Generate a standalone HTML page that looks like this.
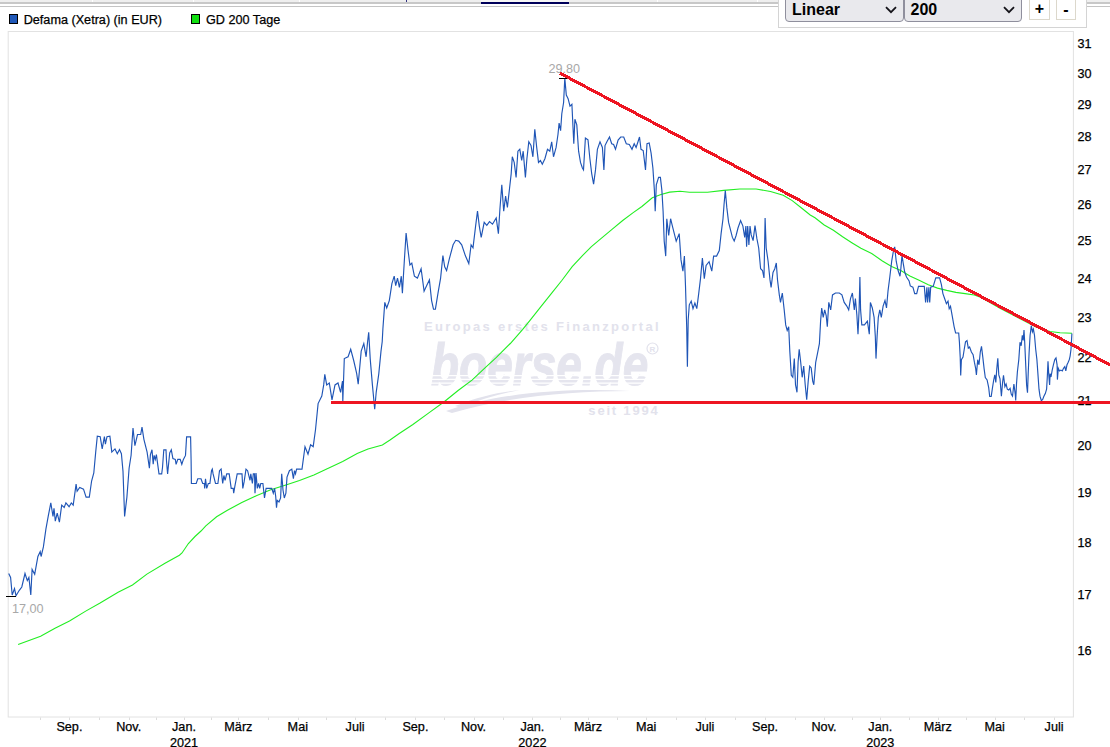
<!DOCTYPE html>
<html><head><meta charset="utf-8"><title>Defama Chart</title>
<style>
html,body{margin:0;padding:0;background:#fff;}
body{width:1110px;height:747px;overflow:hidden;position:relative;font-family:"Liberation Sans",Arial,sans-serif;}
#chart{position:absolute;left:0;top:0;}
.strip{position:absolute;left:0;top:0;width:1110px;height:4px;background:linear-gradient(#efefef 0,#efefef 2px,#c8c8c8 2px,#c8c8c8 4px);}
.strip i{position:absolute;top:0;width:1px;height:2px;background:#fff;}
.hr{position:absolute;left:0;top:6px;width:1110px;height:1px;background:#c4c4c4;}
.panel{position:absolute;left:778px;top:-2px;width:307px;height:28px;background:#fff;border:1px solid #d4d4d4;}
.sel{position:absolute;top:-8px;height:31px;box-sizing:border-box;background:#e9e9ed;border:1px solid #8f8f9d;border-radius:4px;font-weight:bold;font-size:16px;color:#000;line-height:18px;}
.sel span{position:absolute;left:6px;top:9px;}
.sel svg{position:absolute;right:6px;top:14.3px;}
.btn{position:absolute;top:-2px;height:23px;width:20px;box-sizing:border-box;border:1px solid #dcd8cc;background:#fff;font-weight:bold;font-size:16px;text-align:center;line-height:18px;color:#000;}
</style></head><body>
<svg id="chart" width="1110" height="747" viewBox="0 0 1110 747" font-family="'Liberation Sans',Arial,sans-serif" font-size="12.65px">
<rect x="8.2" y="31.5" width="1065.2" height="685.5" fill="#fff" stroke="#e2e2e2" stroke-width="1"/>
<!-- watermark -->
<g fill="#e2e2ec" font-weight="bold">
<text x="424" y="331" font-size="13px" letter-spacing="2.3">Europas erstes Finanzportal</text>
<text transform="translate(431,385.2) scale(1,1.27)" font-size="46px" fill="#e5e5ee" stroke="#e5e5ee" stroke-width="0.8" font-style="italic" letter-spacing="0">boerse.de</text>
<text x="659.5" y="414.5" font-size="13px" letter-spacing="1.8" text-anchor="end">seit 1994</text>
<circle cx="652.5" cy="348.5" r="5.5" fill="none" stroke="#e2e2ec" stroke-width="1.2"/>
<text x="652.5" y="351.5" font-size="8px" text-anchor="middle">R</text>
<path d="M446 411 C 500 392, 570 388, 630 391 C 570 391, 505 397, 452 413 Z" />
<path d="M455 406 C 480 396, 500 392, 520 390 C 500 394, 480 399, 462 408 Z"/>
</g>
<g stroke="#fff" stroke-width="1.3"><path d="M428 375.6H650M428 379.4H650M428 383.2H650"/></g>
<!-- legend -->
<rect x="9.5" y="14.5" width="8" height="9" fill="#2058b8" stroke="#000"/>
<text x="23.7" y="24" fill="#000" stroke="#000" stroke-width="0.25">Defama (Xetra) (in EUR)</text>
<rect x="191.5" y="14.5" width="8" height="9" fill="#10e010" stroke="#000"/>
<text x="206" y="24" fill="#000" stroke="#000" stroke-width="0.25">GD 200 Tage</text>
<!-- axes -->
<path d="M40.5 717.5v2.5M69.5 717.5v2.5M129.5 717.5v2.5M184.5 717.5v2.5M238.5 717.5v2.5M298.5 717.5v2.5M355.5 717.5v2.5M415.5 717.5v2.5M474.5 717.5v2.5M532.5 717.5v2.5M588.5 717.5v2.5M646.5 717.5v2.5M705.5 717.5v2.5M765.5 717.5v2.5M824.5 717.5v2.5M880.5 717.5v2.5M938.5 717.5v2.5M995.5 717.5v2.5M1054.5 717.5v2.5M99.5 717.5v2.5M156.5 717.5v2.5M211.5 717.5v2.5M268.5 717.5v2.5M326.5 717.5v2.5M385.5 717.5v2.5M444.5 717.5v2.5M503.5 717.5v2.5M560.5 717.5v2.5M617.5 717.5v2.5M676.5 717.5v2.5M735.5 717.5v2.5M795.5 717.5v2.5M852.5 717.5v2.5M909.5 717.5v2.5M966.5 717.5v2.5M1024.5 717.5v2.5" stroke="#dcdcdc" stroke-width="1" fill="none"/>
<g fill="#000" stroke="#000" stroke-width="0.25"><text x="1077.5" y="654.6">16</text><text x="1077.5" y="598.9">17</text><text x="1077.5" y="546.5">18</text><text x="1077.5" y="496.9">19</text><text x="1077.5" y="449.8">20</text><text x="1077.5" y="405.0">21</text><text x="1077.5" y="362.4">22</text><text x="1077.5" y="321.6">23</text><text x="1077.5" y="282.5">24</text><text x="1077.5" y="245.1">25</text><text x="1077.5" y="209.1">26</text><text x="1077.5" y="174.4">27</text><text x="1077.5" y="141.1">28</text><text x="1077.5" y="108.9">29</text><text x="1077.5" y="77.8">30</text><text x="1077.5" y="47.7">31</text></g>
<g fill="#000" stroke="#000" stroke-width="0.25"><text x="69.4" y="731.2" text-anchor="middle">Sep.</text><text x="128.7" y="731.2" text-anchor="middle">Nov.</text><text x="184" y="731.2" text-anchor="middle">Jan.</text><text x="238.4" y="731.2" text-anchor="middle">März</text><text x="297.8" y="731.2" text-anchor="middle">Mai</text><text x="355.1" y="731.2" text-anchor="middle">Juli</text><text x="415.4" y="731.2" text-anchor="middle">Sep.</text><text x="473.5" y="731.2" text-anchor="middle">Nov.</text><text x="532.4" y="731.2" text-anchor="middle">Jan.</text><text x="588.1" y="731.2" text-anchor="middle">März</text><text x="646.2" y="731.2" text-anchor="middle">Mai</text><text x="704.9" y="731.2" text-anchor="middle">Juli</text><text x="765.1" y="731.2" text-anchor="middle">Sep.</text><text x="824" y="731.2" text-anchor="middle">Nov.</text><text x="880.3" y="731.2" text-anchor="middle">Jan.</text><text x="937.8" y="731.2" text-anchor="middle">März</text><text x="994.6" y="731.2" text-anchor="middle">Mai</text><text x="1054.1" y="731.2" text-anchor="middle">Juli</text><text x="184" y="746.5" text-anchor="middle">2021</text><text x="532.4" y="746.5" text-anchor="middle">2022</text><text x="880.3" y="746.5" text-anchor="middle">2023</text></g>
<!-- lines -->
<polyline points="18.1,644.4 40.6,636.3 55.0,628.2 69.5,621.0 85.7,611.1 100.1,603.0 118.1,592.2 132.5,585.0 146.9,574.1 165.0,563.3 179.4,555.2 182.0,553.0 188.4,543.5 195.0,536.5 201.0,531.0 205.8,525.8 216.6,516.8 227.4,510.3 241.8,502.5 256.3,495.7 270.7,489.8 285.1,485.2 299.5,480.4 313.9,475.0 328.3,468.3 342.7,461.5 357.2,453.5 368.0,449.0 382.4,445.0 390.0,440.0 398.9,433.8 412.9,424.5 428.5,413.1 444.2,401.8 458.1,390.5 472.0,380.1 484.2,368.7 496.4,357.4 510.3,343.5 522.5,329.6 530.4,319.8 540.9,306.6 551.3,293.6 561.8,280.5 572.2,266.6 582.7,255.3 591.4,246.6 601.8,237.9 612.3,229.2 622.7,220.5 633.2,212.6 641.9,206.5 652.3,197.8 661.0,194.5 669.7,192.1 680.0,191.2 689.5,192.2 707.5,192.3 723.7,190.4 739.9,189.0 756.1,189.0 770.5,191.5 783.2,195.2 792.2,200.6 801.2,207.8 810.2,215.0 815.0,217.7 824.2,225.0 833.4,230.3 842.6,236.8 851.8,242.7 860.9,248.3 871.7,253.5 882.4,261.0 891.6,266.5 900.8,270.5 909.9,275.9 919.1,280.2 928.3,284.8 937.5,288.1 946.7,290.4 955.9,292.4 965.1,293.6 974.3,295.0 981.2,297.5 1000.0,308.3 1024.0,320.8 1036.0,327.0 1044.0,329.5 1050.0,331.5 1060.0,332.8 1072.0,333.2" fill="none" stroke="#22ee22" stroke-width="1.1"/>
<polyline points="8.7,573.5 10.6,577.4 12.2,595.0 14.5,588.6 16.0,595.7 19.3,590.3 21.8,587.0 25.0,573.5 27.3,580.6 28.9,577.4 30.8,595.0 32.1,569.4 34.7,574.2 37.9,556.5 40.2,551.7 41.1,556.5 43.4,546.9 45.9,529.2 48.2,516.4 50.8,502.9 53.0,516.4 54.0,508.3 55.3,521.2 57.2,513.2 59.4,522.1 61.7,505.1 64.2,507.4 65.9,502.9 69.1,506.7 71.3,502.9 73.2,505.1 76.1,484.2 77.1,491.3 79.7,487.5 83.5,489.1 86.1,497.1 89.3,497.1 91.6,481.0 93.8,473.0 95.7,452.1 97.3,436.1 100.2,436.7 102.2,448.9 104.4,436.7 105.4,444.1 107.0,436.7 109.9,436.1 111.8,452.1 115.0,448.9 117.3,453.7 119.5,449.6 121.4,453.7 123.0,471.4 124.6,516.4 126.9,497.1 129.1,468.2 131.1,455.3 133.0,428.0 134.9,445.7 137.5,434.5 140.7,434.5 142.0,427.1 143.9,439.3 147.1,452.1 149.4,468.2 150.4,454.6 152.0,449.8 153.2,464.3 154.1,455.4 155.3,459.4 156.4,454.6 157.7,464.3 159.0,473.9 161.7,473.9 162.5,467.5 163.8,449.8 166.0,449.8 166.5,461.0 167.6,473.9 168.9,461.0 169.7,453.0 171.3,449.8 172.9,458.6 175.3,459.4 176.1,464.3 177.8,459.4 180.2,459.4 181.8,464.3 183.4,459.4 185.5,455.4 186.6,436.9 190.6,436.9 191.1,460.2 191.4,483.5 196.2,483.5 197.8,478.7 201.0,478.7 202.7,483.5 204.3,483.5 204.7,488.4 205.5,478.7 206.7,488.4 208.3,483.5 209.9,483.5 211.5,470.7 212.3,469.1 213.1,473.9 215.5,483.5 217.9,483.5 219.5,470.7 221.1,469.1 222.7,483.5 223.9,475.5 225.1,480.3 226.7,473.9 229.2,473.9 231.2,488.4 233.2,488.4 233.7,493.2 234.8,486.7 237.2,473.9 242.0,473.9 242.8,488.4 244.1,481.9 246.0,469.1 247.6,470.7 250.0,480.3 250.8,473.9 252.4,483.5 253.3,473.9 254.5,473.9 255.0,493.2 256.0,473.1 257.3,488.4 258.6,483.5 259.7,488.4 260.8,483.5 262.9,483.5 264.5,498.0 266.1,488.4 271.7,488.4 273.3,493.2 274.6,488.4 275.7,496.4 276.5,507.6 277.3,500.4 279.0,502.0 280.6,498.0 281.7,473.9 283.0,490.0 284.3,498.0 285.9,493.2 287.0,477.1 289.4,470.7 291.8,469.1 293.4,478.7 294.5,470.7 295.5,473.9 296.6,469.1 299.8,469.1 302.0,469.2 305.0,446.7 308.0,454.2 310.6,444.8 313.2,446.7 315.5,429.8 318.1,403.6 321.8,396.1 323.7,384.9 324.8,374.4 326.7,384.9 329.3,383.0 332.0,399.8 335.0,384.9 338.0,383.0 340.6,392.3 342.5,381.1 342.8,401.7 344.3,358.6 348.1,356.8 350.7,349.3 353.7,360.5 356.7,373.6 358.2,384.1 361.2,351.1 363.8,343.6 366.1,356.8 367.6,341.8 368.7,332.4 370.2,358.6 372.4,384.9 374.7,409.2 376.2,392.3 378.8,373.6 381.0,351.1 382.2,341.8 382.9,328.7 384.8,302.4 386.7,308.0 389.3,300.6 391.9,283.7 394.2,276.2 395.7,285.6 397.5,278.1 399.4,287.4 401.3,276.2 402.4,293.1 404.3,261.2 406.1,233.1 408.0,250.0 409.9,265.0 411.8,263.1 414.4,276.2 417.4,278.1 421.1,268.7 424.1,291.2 426.7,285.6 429.4,279.9 431.6,300.6 433.5,309.2 435.4,309.2 438.0,293.1 440.6,278.1 442.9,255.6 444.7,266.8 446.6,270.6 449.2,259.3 453.1,244.8 455.7,240.3 458.7,241.1 461.7,244.8 465.5,256.1 468.8,263.6 471.1,244.8 473.0,247.8 475.6,226.1 477.5,211.1 479.3,226.1 481.2,237.3 484.2,222.3 486.8,225.3 489.5,221.6 492.5,224.2 496.2,217.9 498.4,233.6 499.9,209.2 501.8,184.9 503.7,211.1 505.6,196.1 507.4,207.4 509.3,190.5 511.2,173.6 512.3,156.8 514.2,162.4 516.1,177.4 517.9,151.2 519.8,149.3 521.7,160.5 523.2,151.2 525.4,177.4 526.9,158.7 528.8,141.8 531.0,145.5 532.9,156.8 534.8,129.4 536.7,147.4 538.5,162.4 540.4,160.5 542.3,164.3 544.9,158.7 547.5,149.3 549.8,151.2 551.7,141.8 553.5,156.8 556.1,147.4 558.0,134.3 559.1,123.1 560.6,130.6 561.8,113.7 563.6,102.5 564.8,78.1 566.3,95.0 568.1,98.7 570.0,106.2 571.9,104.3 573.8,143.7 574.9,119.3 576.8,124.9 578.6,151.2 580.5,162.4 582.4,168.0 583.5,169.9 585.4,138.0 588.0,139.9 589.9,158.7 591.7,173.6 593.6,184.1 595.5,169.9 597.4,149.3 600.0,141.8 602.4,147.5 603.9,169.9 605.0,145.6 606.9,141.8 609.5,137.0 611.7,143.7 613.6,144.5 615.5,149.3 618.1,140.0 620.7,137.0 623.7,137.0 626.3,143.7 629.3,144.5 632.0,149.3 634.2,143.7 636.1,147.5 638.0,141.8 639.5,137.0 641.0,149.3 643.2,150.5 645.5,169.9 647.0,143.7 649.2,143.0 651.1,153.1 652.9,168.1 654.4,190.6 655.2,211.2 656.3,184.9 658.6,177.4 660.4,177.4 661.9,190.6 663.1,211.2 664.2,241.1 665.7,256.1 666.8,218.7 668.7,235.5 670.6,218.7 672.4,226.1 674.3,233.6 676.2,241.1 679.2,233.6 681.0,259.9 682.9,271.1 684.4,256.1 685.5,286.1 686.7,327.3 687.4,366.7 688.2,319.8 689.3,304.8 691.2,301.1 693.0,308.6 694.9,303.0 696.8,308.6 698.7,293.6 700.5,278.6 702.4,258.0 704.3,278.6 706.1,265.5 709.1,261.7 711.8,271.1 713.6,256.1 716.6,256.1 719.3,250.5 721.1,233.6 723.0,218.7 724.1,203.7 725.3,190.6 726.8,207.4 728.6,222.4 730.5,229.9 732.4,237.4 734.2,241.1 736.1,235.5 738.0,228.0 740.6,220.5 742.9,226.1 744.7,237.4 745.9,226.1 746.6,246.8 747.7,226.1 748.9,244.9 750.0,226.1 751.2,234.9 753.1,240.6 755.0,225.6 756.9,238.7 758.7,248.0 760.6,268.7 762.5,270.5 764.0,278.0 765.1,218.1 766.2,248.0 768.1,261.2 770.0,279.9 771.1,287.4 773.0,272.4 774.8,268.7 776.3,263.0 777.5,279.9 779.3,294.9 780.5,302.4 782.3,293.0 784.2,309.9 785.7,324.9 787.2,330.5 788.7,326.7 789.8,351.1 791.3,375.4 792.8,377.3 794.3,358.6 795.5,384.8 797.0,392.3 798.1,362.3 799.2,349.2 800.7,362.3 802.2,377.3 803.7,366.1 805.2,384.8 806.7,399.8 808.2,381.1 809.7,366.1 811.2,367.9 812.7,381.1 813.8,384.8 815.7,362.3 817.6,352.9 819.4,343.6 820.6,321.1 821.7,308.0 823.2,317.4 824.7,309.9 826.2,315.5 827.3,326.7 828.8,302.4 830.7,309.9 832.5,294.9 835.5,293.0 839.3,293.0 841.9,294.9 844.2,302.4 846.8,306.1 848.7,309.9 850.5,298.6 852.4,293.0 854.3,309.9 855.4,298.6 856.9,315.5 858.0,334.2 859.1,309.9 859.9,276.9 860.6,309.9 861.8,324.9 864.4,324.9 867.4,321.1 869.3,334.2 870.4,302.4 872.3,308.0 874.1,317.4 875.3,336.1 876.0,358.6 877.1,336.1 878.3,317.4 879.8,309.9 881.3,317.4 883.1,306.1 885.0,300.5 886.5,308.0 888.0,291.1 889.9,276.2 891.7,261.2 893.6,249.9 894.7,246.9 896.2,261.2 898.1,270.5 900.0,276.2 900.9,268.1 902.0,255.4 903.2,263.1 904.7,272.0 906.5,277.0 909.1,280.9 910.3,285.9 912.9,287.2 914.7,293.6 916.7,293.6 918.5,286.4 924.3,286.4 925.6,302.5 926.9,287.2 927.6,302.5 928.9,287.2 929.7,302.5 930.7,287.2 933.2,286.4 935.8,277.8 939.6,277.8 941.4,284.7 942.9,293.6 944.7,298.7 946.4,303.7 948.0,301.2 949.2,308.8 950.5,306.3 952.3,316.4 954.1,326.6 955.6,333.0 958.7,333.0 959.4,341.9 960.2,357.1 960.7,375.4 961.4,359.7 963.0,357.1 964.2,349.5 965.5,341.9 967.0,340.6 968.3,348.2 969.6,347.0 971.4,352.0 973.1,354.6 974.4,362.2 975.7,368.6 976.4,374.9 977.7,359.7 979.0,364.8 980.3,352.0 981.5,346.4 982.8,357.1 984.1,368.6 985.3,377.5 987.1,380.0 988.7,387.6 989.7,396.5 991.2,396.5 992.5,387.6 993.7,380.0 994.8,374.9 995.8,382.5 996.8,368.6 997.8,358.4 998.8,374.9 1000.0,378.8 1001.4,396.2 1002.6,382.3 1003.5,375.3 1004.9,386.6 1006.1,384.0 1007.3,389.2 1008.7,390.1 1010.1,388.3 1011.3,394.4 1012.5,396.2 1013.9,384.0 1015.3,394.4 1015.7,400.5 1016.5,384.0 1017.4,371.8 1018.8,359.6 1020.0,342.2 1021.2,345.7 1022.3,335.3 1023.2,340.5 1024.0,330.0 1024.7,342.2 1025.8,366.6 1026.6,384.9 1027.5,392.7 1028.2,373.6 1029.1,352.7 1030.1,335.3 1031.3,325.7 1032.4,331.8 1033.4,329.2 1034.5,335.3 1035.7,349.2 1036.9,359.6 1037.9,373.6 1039.0,389.2 1040.0,396.2 1041.3,400.5 1042.6,399.7 1043.9,396.2 1045.3,393.6 1046.6,389.2 1047.3,377.0 1048.0,361.4 1048.7,373.6 1049.6,384.9 1050.1,373.6 1051.0,377.0 1052.2,370.1 1053.4,364.8 1054.8,359.6 1056.0,357.9 1057.1,364.8 1057.4,379.6 1058.3,368.3 1059.5,370.9 1060.9,370.1 1062.3,370.9 1063.5,368.3 1064.8,366.6 1065.8,370.9 1067.0,364.8 1068.2,362.2 1069.3,359.6 1070.1,356.1 1071.0,349.2 1071.9,333.5" fill="none" stroke="#1f55b6" stroke-width="1.15" stroke-linejoin="miter"/>
<path d="M6 596.5H16M559 78.5H569" stroke="#000" stroke-width="1"/>
<text x="12" y="612.5" fill="#a8a8a8">17,00</text>
<text x="548.5" y="73" fill="#a8a8a8">29.80</text>
<g stroke="#ee1522" stroke-width="3.1" shape-rendering="crispEdges">
<rect x="331" y="401" width="779" height="3" fill="#ee1522" stroke="none"/>
<line x1="560" y1="73.2" x2="1112" y2="366"/>
</g>
</svg>
<div class="strip"><i style="left:92px"></i><i style="left:193px"></i><i style="left:299px"></i><i style="left:406px;background:#303080"></i><i style="left:657px"></i><i style="left:757px"></i>
<b style="position:absolute;left:481px;top:0;width:88px;height:2px;background:#f6f6f6"></b>
<b style="position:absolute;left:481px;top:2px;width:88px;height:2px;background:#00005a"></b></div>
<div class="hr"></div>
<div class="panel">
<div class="sel" style="left:6px;width:119px"><span>Linear</span><svg width="12" height="8" viewBox="0 0 12 8"><path d="M1 1.2L6 6.2L11 1.2" fill="none" stroke="#15141a" stroke-width="1.8"/></svg></div>
<div class="sel" style="left:125px;width:118px"><span style="left:5.5px">200</span><svg width="12" height="8" viewBox="0 0 12 8"><path d="M1 1.2L6 6.2L11 1.2" fill="none" stroke="#15141a" stroke-width="1.8"/></svg></div>
<div class="btn" style="left:250px;width:21px"><span style="position:relative;top:2px">+</span></div>
<div class="btn" style="left:277px;"><span style="position:relative;top:3px">-</span></div>
</div>
</body></html>
